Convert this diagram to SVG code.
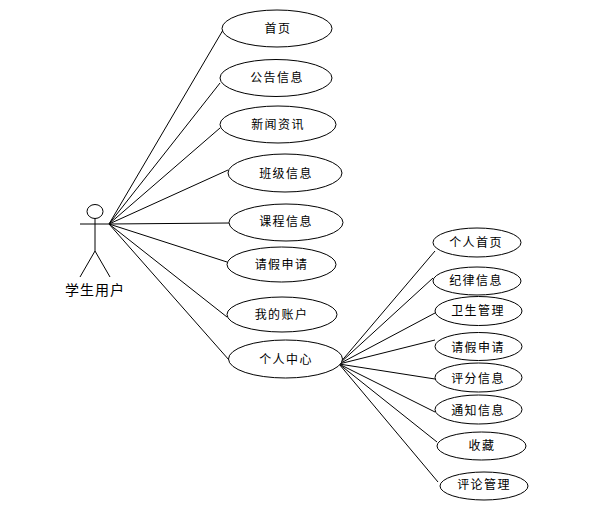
<svg xmlns="http://www.w3.org/2000/svg" width="606" height="506" viewBox="0 0 606 506">
<style>
.bg{fill:#fff}
.u ellipse{fill:#fff;stroke:#000;stroke-width:1}
.c line,.a line,.a ellipse{stroke:#000;stroke-width:1;fill:none}
.a ellipse{fill:#fff}
text{font-family:"Noto Sans CJK SC","Noto Sans",sans-serif;font-size:12px;letter-spacing:1.4px;text-anchor:middle;fill:#000}
.a text{font-size:14px;letter-spacing:1px}
</style>
<rect class="bg" width="606" height="506"/>
<g id="connectors" class="c">
<line x1="109" y1="224" x2="223" y2="30"/>
<line x1="109" y1="224" x2="220" y2="83"/>
<line x1="109" y1="224" x2="220" y2="128"/>
<line x1="109" y1="224" x2="228" y2="170"/>
<line x1="109" y1="224" x2="229" y2="223"/>
<line x1="109" y1="224" x2="227" y2="262"/>
<line x1="109" y1="224" x2="227" y2="317"/>
<line x1="109" y1="224" x2="229" y2="360"/>
<line x1="339" y1="364" x2="435" y2="251"/>
<line x1="339" y1="364" x2="433" y2="278"/>
<line x1="339" y1="364" x2="435" y2="313"/>
<line x1="339" y1="364" x2="435" y2="340"/>
<line x1="339" y1="364" x2="435" y2="379"/>
<line x1="339" y1="364" x2="435" y2="412"/>
<line x1="339" y1="364" x2="437" y2="442"/>
<line x1="339" y1="364" x2="438" y2="482"/>
</g>
<g id="actor" class="a">
<ellipse cx="95" cy="211.5" rx="8" ry="7"/>
<line x1="80" y1="224" x2="110" y2="224"/>
<line x1="95" y1="218.5" x2="95" y2="251"/>
<line x1="95" y1="251" x2="80" y2="277"/>
<line x1="95" y1="251" x2="110" y2="277"/>
<text x="95" y="295">学生用户</text>
</g>
<g id="n1" class="u"><ellipse cx="277" cy="28.5" rx="55" ry="18.5"/><text x="278" y="33">首页</text></g>
<g id="n2" class="u"><ellipse cx="276" cy="78" rx="56" ry="18.5"/><text x="277" y="82">公告信息</text></g>
<g id="n3" class="u"><ellipse cx="278" cy="124.5" rx="58" ry="18.5"/><text x="278" y="129">新闻资讯</text></g>
<g id="n4" class="u"><ellipse cx="285" cy="173" rx="57" ry="19"/><text x="286" y="178">班级信息</text></g>
<g id="n5" class="u"><ellipse cx="286" cy="222.5" rx="57" ry="18.5"/><text x="286" y="226">课程信息</text></g>
<g id="n6" class="u"><ellipse cx="281.5" cy="264.5" rx="54.5" ry="17.5"/><text x="281.5" y="269">请假申请</text></g>
<g id="n7" class="u"><ellipse cx="282" cy="314.5" rx="55" ry="17.5"/><text x="281.5" y="319">我的账户</text></g>
<g id="n8" class="u"><ellipse cx="285.5" cy="359" rx="57" ry="19"/><text x="286" y="364">个人中心</text></g>
<g id="n9" class="u"><ellipse cx="477" cy="242.5" rx="44" ry="14.5"/><text x="476" y="247">个人首页</text></g>
<g id="n10" class="u"><ellipse cx="477" cy="281" rx="44" ry="14"/><text x="476" y="285">纪律信息</text></g>
<g id="n11" class="u"><ellipse cx="478.5" cy="311" rx="43.5" ry="14.5"/><text x="478" y="315">卫生管理</text></g>
<g id="n12" class="u"><ellipse cx="478.5" cy="346.5" rx="43.5" ry="14"/><text x="478" y="352">请假申请</text></g>
<g id="n13" class="u"><ellipse cx="478.5" cy="377.5" rx="43.5" ry="14.5"/><text x="478" y="383">评分信息</text></g>
<g id="n14" class="u"><ellipse cx="478.5" cy="409.5" rx="43.5" ry="14.5"/><text x="478" y="415">通知信息</text></g>
<g id="n15" class="u"><ellipse cx="481.5" cy="446" rx="44.5" ry="14"/><text x="482" y="450">收藏</text></g>
<g id="n16" class="u"><ellipse cx="484" cy="486" rx="44" ry="14"/><text x="484" y="489">评论管理</text></g>
</svg>
